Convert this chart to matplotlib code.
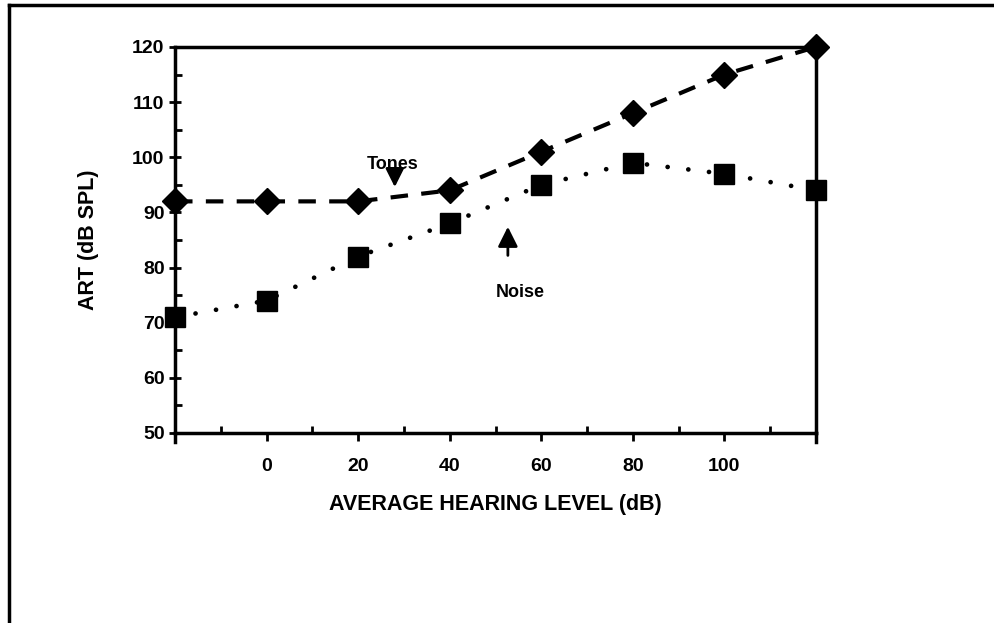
import matplotlib
matplotlib.use('Agg')
import matplotlib.pyplot as plt
from matplotlib.lines import Line2D
from matplotlib.ticker import MultipleLocator, FixedLocator

plt.rcParams['font.family'] = ['Liberation Sans Narrow', 'Liberation Sans', 'DejaVu Sans']
plt.rcParams['font.weight'] = 'bold'

# hearing level (dB) and acoustic reflex thresholds (dB SPL)
hearing_level = [-20, 0, 20, 40, 60, 80, 100, 120]
art_tones = [92, 92, 92, 94, 101, 108, 115, 120]
art_noise = [71, 74, 82, 88, 95, 99, 97, 94]
x_tick_labels = ['0', '20', '40', '60', '80', '100']

fig = plt.figure(figsize=(9.95, 6.23), dpi=100)
ax = fig.add_axes([0.1759, 0.305, 0.6442, 0.6196])

ax.plot(hearing_level, art_tones, color='black', lw=3, dashes=(4.2, 3.2),
        marker='D', ms=13, clip_on=False, zorder=3)
ax.plot(hearing_level, art_noise, color='black', lw=3.4, linestyle=(0, (0.01, 4.4)),
        dash_capstyle='round', marker='s', ms=14, clip_on=False, zorder=3)

ax.set_xlim(-20, 120)
ax.set_ylim(50, 120)

# x ticks: labelled majors point down, minors point up
ax.xaxis.set_major_locator(FixedLocator([0, 20, 40, 60, 80, 100]))
ax.set_xticklabels(x_tick_labels)
ax.xaxis.set_minor_locator(FixedLocator([-10, 10, 30, 50, 70, 90, 110]))
ax.tick_params(axis='x', which='major', direction='out', length=6, width=2, pad=12,
               labelsize=14)
ax.tick_params(axis='x', which='minor', direction='in', length=5, width=2)
# the end ticks at -20 and 120 drop below the axis
for xe in (-20, 120):
    ax.plot([xe, xe], [50, 48.3], color='black', lw=2.5, clip_on=False)

ax.yaxis.set_major_locator(MultipleLocator(10))
ax.yaxis.set_minor_locator(MultipleLocator(5))
ax.tick_params(axis='y', which='major', direction='inout', length=9, width=2, pad=3,
               labelsize=14)
ax.tick_params(axis='y', which='minor', direction='in', length=5, width=2)

for s in ax.spines.values():
    s.set_linewidth(2.5)

ax.set_xlabel('AVERAGE HEARING LEVEL (dB)', fontsize=15.5, fontweight='bold', labelpad=14)
ax.set_ylabel('ART (dB SPL)', fontsize=15.5, fontweight='bold', labelpad=24)

# arrow labels for the two curves
ax.text(27.6, 98.7, 'Tones', ha='center', va='center', fontsize=13, fontweight='bold')
ax.annotate('', xy=(28, 94.6), xytext=(28, 97.1),
            arrowprops=dict(arrowstyle='-|>', color='black', lw=2,
                            mutation_scale=28, shrinkA=0, shrinkB=0))
ax.text(55.3, 75.4, 'Noise', ha='center', va='center', fontsize=13, fontweight='bold')
ax.annotate('', xy=(52.7, 87.4), xytext=(52.7, 82.2),
            arrowprops=dict(arrowstyle='-|>', color='black', lw=2,
                            mutation_scale=30, shrinkA=0, shrinkB=0))

# frame lines along the top and left of the page
fig.add_artist(Line2D([0.009, 1.0], [0.992, 0.992], color='black', lw=2.5,
                      transform=fig.transFigure))
fig.add_artist(Line2D([0.009, 0.009], [0.0, 0.992], color='black', lw=2.5,
                      transform=fig.transFigure))

fig.savefig('out.png', dpi=100, facecolor='white')
